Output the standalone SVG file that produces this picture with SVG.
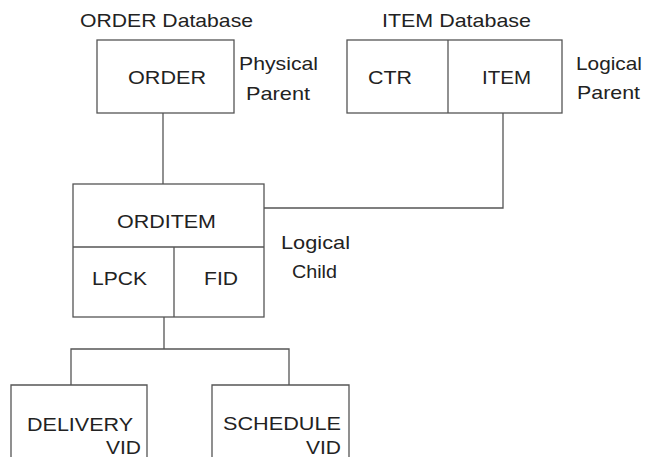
<svg xmlns="http://www.w3.org/2000/svg" width="645" height="457" viewBox="0 0 645 457">
<style>
text{font-family:"Liberation Sans",Arial,sans-serif;font-size:19px;fill:#222}
.box{fill:#fff;stroke:#555;stroke-width:1.3}
.ln{fill:none;stroke:#555;stroke-width:1.3}
</style>
<rect width="645" height="457" fill="#fff"/>
<g id="connectors">
<path class="ln" d="M163 113V184"/>
<path class="ln" d="M503 113V208H264"/>
<path class="ln" d="M164 317V349M71 385V349H289V385"/>
</g>
<g id="order-db">
<text x="80" y="27" textLength="173" lengthAdjust="spacingAndGlyphs">ORDER Database</text>
<rect class="box" x="97" y="40" width="137" height="73"/>
<text x="128" y="84" textLength="78" lengthAdjust="spacingAndGlyphs">ORDER</text>
<text x="239" y="70" textLength="79" lengthAdjust="spacingAndGlyphs">Physical</text>
<text x="246" y="100" textLength="64" lengthAdjust="spacingAndGlyphs">Parent</text>
</g>
<g id="item-db">
<text x="382" y="27" textLength="149" lengthAdjust="spacingAndGlyphs">ITEM Database</text>
<rect class="box" x="347" y="40" width="215" height="73"/>
<path class="ln" d="M448 40V113"/>
<text x="368" y="84" textLength="44" lengthAdjust="spacingAndGlyphs">CTR</text>
<text x="482" y="84" textLength="49" lengthAdjust="spacingAndGlyphs">ITEM</text>
<text x="576" y="70" textLength="66" lengthAdjust="spacingAndGlyphs">Logical</text>
<text x="577" y="99" textLength="63" lengthAdjust="spacingAndGlyphs">Parent</text>
</g>
<g id="orditem">
<rect class="box" x="73" y="184" width="191" height="133"/>
<path class="ln" d="M73 247H264M174 247V317"/>
<text x="117" y="228" textLength="99" lengthAdjust="spacingAndGlyphs">ORDITEM</text>
<text x="92" y="285" textLength="55" lengthAdjust="spacingAndGlyphs">LPCK</text>
<text x="204" y="285" textLength="34" lengthAdjust="spacingAndGlyphs">FID</text>
<text x="281" y="249" textLength="69" lengthAdjust="spacingAndGlyphs">Logical</text>
<text x="292" y="278" textLength="45" lengthAdjust="spacingAndGlyphs">Child</text>
</g>
<g id="delivery">
<path class="box" d="M11 470V385H147V470"/>
<text x="27" y="431" textLength="106" lengthAdjust="spacingAndGlyphs">DELIVERY</text>
<text x="106" y="454" textLength="35" lengthAdjust="spacingAndGlyphs">VID</text>
</g>
<g id="schedule">
<path class="box" d="M212 470V385H349V470"/>
<text x="223" y="430" textLength="118" lengthAdjust="spacingAndGlyphs">SCHEDULE</text>
<text x="306" y="454" textLength="35" lengthAdjust="spacingAndGlyphs">VID</text>
</g>
</svg>
